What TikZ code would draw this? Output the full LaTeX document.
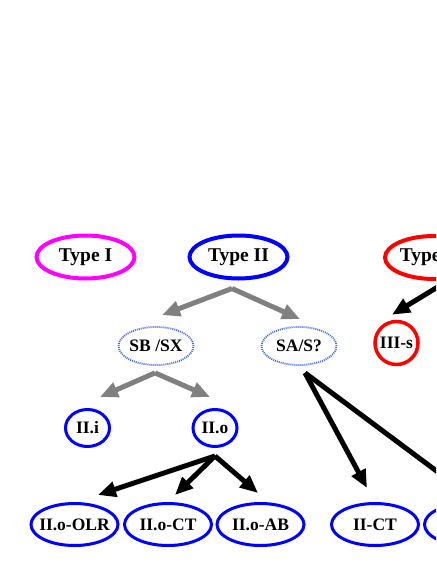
\documentclass[tikz,border=0pt]{standalone}
\usepackage{fontspec}
\setmainfont{Liberation Serif}
\usetikzlibrary{shapes.geometric, arrows.meta}
\definecolor{typeone}{HTML}{FF00FF}
\definecolor{typetwo}{HTML}{0000FF}
\definecolor{typethree}{HTML}{FF0000}
\definecolor{subset}{HTML}{4169E1}
\definecolor{split}{HTML}{808080}

\begin{document}
\begin{tikzpicture}[x=1pt, y=-1pt, font=\bfseries\fontsize{17.5}{20}\selectfont,
  cls/.style={ellipse, draw, inner ysep=0pt, inner xsep=-5pt},
  typebox/.style={cls, line width=4pt, minimum width=98pt, minimum height=43pt,
                  font=\bfseries\fontsize{19.5}{22}\selectfont},
  subbox/.style={cls, draw=subset, dash pattern=on 1pt off 1pt, line width=1.8pt, minimum width=75pt, minimum height=38pt},
  leafbox/.style={cls, draw=typetwo, line width=3pt, minimum width=87pt, minimum height=42pt},
  subtypebox/.style={cls, draw=typetwo, line width=3pt, minimum width=44pt, minimum height=37pt},
  grayarr/.style={split, line width=5pt, -{Triangle[length=18pt, width=15pt]}},
  blackarr/.style={black, line width=5pt, -{Triangle[length=18pt, width=15pt]}}
]
  \useasboundingbox (0,0) rectangle (436,564);
  \clip (0,0) rectangle (436,564);

  % top level
  \node[typebox, draw=typeone] (typeI) at (85.5,257) {Type I};
  \node[typebox, draw=typetwo] (typeII) at (238.5,257) {Type II};
  \node[typebox, draw=typethree] (typeIII) at (434,257.5) {Type III};

  % second level
  \node[subbox] (sbsx) at (156,346) {SB /SX};
  \node[subbox] (sas) at (299,346) {SA/S?};
  \node[subtypebox, draw=typethree, line width=3.5pt, minimum width=43pt, minimum height=43pt] (IIIs) at (396.5,343) {III-s};

  \node[subtypebox] (IIi) at (87.5,428) {II.i};
  \node[subtypebox] (IIo) at (215,428) {II.o};

  % leaves
  \node[leafbox] (olr) at (74.5,524.5) {II.o-OLR};
  \node[leafbox] (oct) at (168,524.5) {II.o-CT};
  \node[leafbox] (oab) at (260.5,524.5) {II.o-AB};
  \node[leafbox] (iict) at (375,524.5) {II-CT};
  \node[leafbox] (iinext) at (468,524.5) {};

  \draw[grayarr] ([xshift=-6.5pt, yshift=-8pt]typeII.south) -- ([xshift=6pt, yshift=11pt]sbsx.north);
  \draw[grayarr] ([xshift=-6.5pt, yshift=-8pt]typeII.south) -- ([xshift=1pt, yshift=7pt]sas.north);
  \draw[blackarr] ([xshift=7pt, yshift=-4pt]typeIII.south) -- ([xshift=-4.5pt, yshift=5pt]IIIs.north);

  \draw[grayarr] ([xshift=-1pt, yshift=-7pt]sbsx.south) -- ([xshift=12.5pt, yshift=11pt]IIi.north);
  \draw[grayarr] ([xshift=-1pt, yshift=-7pt]sbsx.south) -- ([xshift=-5pt, yshift=11pt]IIo.north);

  \draw[blackarr] ([yshift=-8pt]IIo.south) -- ([xshift=23.5pt, yshift=7pt]olr.north);
  \draw[blackarr] ([yshift=-8pt]IIo.south) -- ([xshift=7pt, yshift=7pt]oct.north);
  \draw[blackarr] ([yshift=-8pt]IIo.south) -- ([xshift=-2.5pt, yshift=9pt]oab.north);

  \draw[blackarr] ([xshift=6pt, yshift=-7pt]sas.south) -- ([xshift=-8pt, yshift=14pt]iict.north);
  \draw[blackarr] ([xshift=6pt, yshift=-7pt]sas.south) -- ([xshift=2pt, yshift=6pt]iinext.north);
\end{tikzpicture}
\end{document}
